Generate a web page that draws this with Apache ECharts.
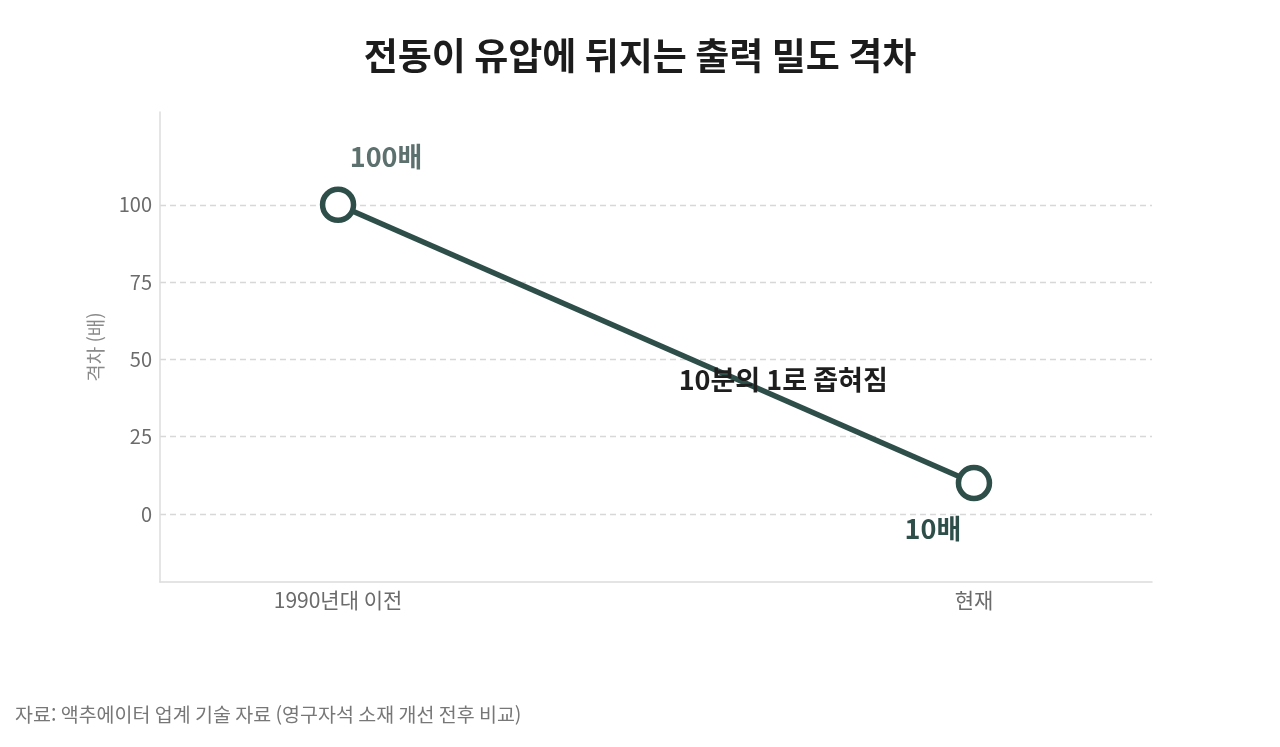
<!DOCTYPE html>
<html lang="ko">
<head>
    <meta charset="UTF-8">
    <title>출력 밀도 격차</title>
    <style>
        html, body { margin: 0; padding: 0; background: #fff; }
        #chart { width: 1280px; height: 747px; }
    </style>
</head>
<body>
<div id="chart"></div>
<script src="https://cdn.jsdelivr.net/npm/echarts@6/dist/echarts.min.js"></script>
<script type="text/javascript">
    // 데이터
    var categories = ['1990년대 이전', '현재'];
    var gapValues = [100, 10];
    var pointLabels = ['100배', '10배'];
    var yTicks = [0, 25, 50, 75, 100];

    var FONT = '"Noto Sans CJK KR", "Noto Sans", sans-serif';
    var LINE = '#2e4e49';

    var chart = echarts.init(document.getElementById('chart'));

    var seriesData = gapValues.map(function (v, i) {
        return {
            value: [i, v],
            label: {
                show: true,
                formatter: pointLabels[i],
                position: 'inside',
                offset: i === 0 ? [48, -48] : [-41, 46],
                color: i === 0 ? '#5c716d' : '#2e4e49',
                fontSize: 27,
                fontWeight: 'bold',
                fontFamily: FONT
            }
        };
    });

    var option = {
        backgroundColor: '#ffffff',
        animation: false,
        title: {
            text: '전동이 유압에 뒤지는 출력 밀도 격차',
            left: 'center',
            top: 32,
            textStyle: {
                fontFamily: FONT,
                fontSize: 37,
                fontWeight: 'bold',
                color: '#1c1c1c'
            }
        },
        grid: {
            left: 160,
            right: 128,
            top: 112,
            bottom: 165
        },
        xAxis: {
            type: 'value',
            min: -0.28,
            max: 1.28,
            axisLine: { show: true, onZero: false, lineStyle: { color: '#dcdcdc', width: 1.5 } },
            axisTick: { show: false },
            splitLine: { show: false },
            axisLabel: {
                customValues: [0, 1],
                formatter: function (v) { return categories[Math.round(v)]; },
                color: '#6b6b6b',
                fontSize: 21,
                fontFamily: FONT,
                margin: 8
            }
        },
        yAxis: {
            type: 'value',
            min: -22,
            max: 130,
            name: '격차 (배)',
            nameLocation: 'middle',
            nameGap: 55,
            nameTextStyle: { color: '#8a8a8a', fontSize: 19, fontFamily: FONT },
            axisLine: { show: true, onZero: false, lineStyle: { color: '#dcdcdc', width: 1.5 } },
            axisTick: { show: false, customValues: yTicks },
            axisLabel: {
                customValues: yTicks,
                color: '#6b6b6b',
                fontSize: 20,
                fontFamily: FONT,
                margin: 8
            },
            splitLine: {
                show: true,
                lineStyle: { color: '#d8d8d8', type: [6, 4], width: 1.3 }
            }
        },
        series: [{
            type: 'line',
            data: seriesData,
            symbol: 'circle',
            symbolSize: 31,
            lineStyle: { color: LINE, width: 5.5 },
            itemStyle: { color: '#ffffff', borderColor: LINE, borderWidth: 5.5 },
            z: 3,
            markPoint: {
                symbol: 'circle',
                symbolSize: 0,
                data: [{
                    coord: [0.7, 43.5],
                    label: {
                        show: true,
                        formatter: '10분의 1로 좁혀짐',
                        position: 'inside',
                        color: '#1e1e1e',
                        fontSize: 27,
                        fontWeight: 'bold',
                        fontFamily: FONT
                    }
                }]
            }
        }],
        graphic: [{
            type: 'text',
            left: 15,
            top: 705,
            style: {
                text: '자료: 액추에이터 업계 기술 자료 (영구자석 소재 개선 전후 비교)',
                fill: '#777777',
                font: '19.5px ' + FONT
            }
        }]
    };

    chart.setOption(option);
</script>
</body>
</html>
